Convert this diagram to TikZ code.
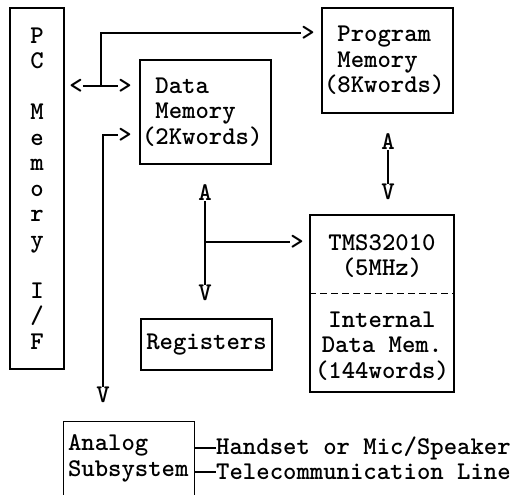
\documentclass[tikz,border=0pt]{standalone}
\usepackage{tikz}

\newcommand{\ttgap}{\hphantom{X}}
\tikzset{
  box/.style={draw, line width=1.3pt, inner xsep=2pt, inner ysep=0pt},
  wire/.style={line width=1.3pt},
  headchar/.style={inner sep=0pt}
}

\begin{document}
\begin{tikzpicture}[x=1pt, y=-1pt, every node/.style={font=\fontsize{25.5}{25.5}\selectfont\ttfamily\bfseries}]
  \useasboundingbox (0,0) rectangle (512,495);

  % Blocks
  \node[box, minimum width=54pt, minimum height=361pt, align=center] (pcif) at (37,188.5) {P\\C\\[25.5pt]M\\e\\m\\o\\r\\y\\[25.5pt]I\\/\\F};
  \node[box, text width=127pt, minimum height=104pt, align=left] (datamem) at (205.5,112) {\ttgap Data\\\ttgap Memory\\(2Kwords)};
  \node[box, text width=127pt, minimum height=105pt, align=left] (progmem) at (387.5,60.5) {\ttgap Program\\\ttgap Memory\\(8Kwords)};
  \node[box, minimum width=144pt, minimum height=177pt] (tms) at (382,303.5) {};
  \node[align=center] (tmscpu) at (382,256) {TMS32010\\(5MHz)};
  \node[align=center] (tmsram) at (382,346) {Internal\\Data Mem.\\(144words)};
  \coordinate (tmsdiv) at (382,293.5);
  \draw[wire, dash pattern=on 7pt off 4pt] (tms.west |- tmsdiv) -- (tms.east |- tmsdiv);
  \node[box, minimum width=131pt, minimum height=51pt] (regs) at (206.5,344.5) {Registers};
  \node[text width=122pt, minimum height=73pt, align=left, inner xsep=4pt] (analog) at (129,458.5) {Analog\\Subsystem};
  \draw[wire] (analog.south west) -- (analog.north west) -- (analog.north east) -- (analog.south east);

  % Outside lines
  \node[anchor=west, inner xsep=0pt] (hand) at (216,448) {Handset or Mic/Speaker};
  \node[anchor=west, inner xsep=0pt] (tele) at (216,472) {Telecommunication Line};
  \draw[wire] (analog.east |- hand.west) -- (hand.west);
  \draw[wire] (analog.east |- tele.west) -- (tele.west);

  % Arrow heads (typed)
  \node[headchar] (lt1) at (76,86) {<};
  \node[headchar] (gt1) at (125,86) {>};
  \node[headchar] (gt2) at (125,135) {>};
  \node[headchar] (gt3) at (308,33) {>};
  \node[headchar] (gt4) at (297,242) {>};
  \node[headchar] (up1) at (388,142) {A};
  \node[headchar] (dn1) at (388,192) {V};
  \node[headchar] (up2) at (205,193) {A};
  \node[headchar] (dn2) at (205,293) {V};
  \node[headchar] (dn3) at (103,395) {V};
  \coordinate (j1) at (101,86);

  % Buses
  \draw[wire] (lt1.east) -- (gt1.west);
  \draw[wire] (j1) |- (gt3.west);
  \draw[wire] (gt2.west) -| (dn3.north);
  \draw[wire] (up1.south) -- (dn1.north);
  \draw[wire] (up2.south) -- (dn2.north);
  \draw[wire] (up2.south |- gt4.west) -- (gt4.west);
\end{tikzpicture}
\end{document}
